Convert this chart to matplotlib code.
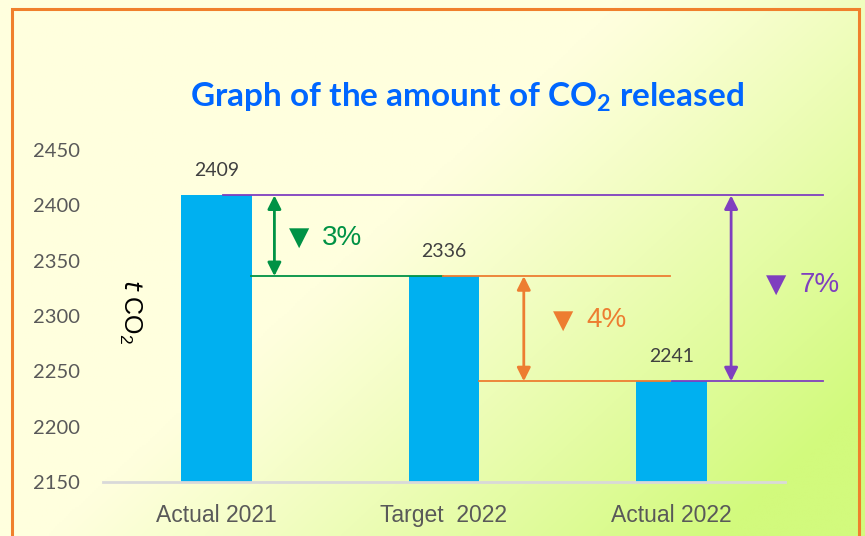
import matplotlib
matplotlib.use('Agg')
import matplotlib.pyplot as plt
import numpy as np
from matplotlib.patches import Rectangle

# data
categories = ['Actual 2021', 'Target  2022', 'Actual 2022']
values = [2409, 2336, 2241]
yticks = [2150, 2200, 2250, 2300, 2350, 2400, 2450]
drops = ['3%', '4%', '7%']

blue = '#00B0F0'
green = '#009245'
orange = '#ED7D31'
purple = '#7F3FBF'

plt.rcParams['mathtext.default'] = 'regular'

fig = plt.figure(figsize=(8.65, 5.36), dpi=100)

# background gradient (pale yellow -> yellow green at lower right)
bg = fig.add_axes([0, 0, 1, 1], zorder=-10)
gx, gy = np.meshgrid(np.linspace(0, 1, 400), np.linspace(0, 1, 250))
t = np.clip((gx * 0.9 + gy * 0.6 - 0.65) / 0.7, 0, 1) ** 1.1
c0 = np.array([255, 255, 222]) / 255
c1 = np.array([210, 250, 125]) / 255
img = c0[None, None, :] * (1 - t[..., None]) + c1[None, None, :] * t[..., None]
bg.imshow(img, aspect='auto', extent=[0, 1, 1, 0])
bg.set_xlim(0, 1)
bg.set_ylim(1, 0)
bg.axis('off')

# orange frame
fig.patches.append(Rectangle((12 / 865, -0.02), (859 - 12) / 865, 1.02 - 9 / 536,
                             transform=fig.transFigure, fill=False,
                             edgecolor='#F0802C', lw=2.2, zorder=5))

ax = fig.add_axes([103 / 865, 1 - 482 / 536, (785 - 103) / 865, (482 - 150) / 536])
ax.patch.set_alpha(0)
x = np.arange(len(categories))
ax.bar(x, values, width=0.31, color=blue, zorder=2)
ax.set_xlim(-0.5, 2.5)
ax.set_ylim(2150, 2450)
ax.set_yticks(yticks)
ax.set_yticklabels([str(v) for v in yticks], family='Lato', fontsize=14.5, color='#595959')
ax.set_xticks(x)
ax.set_xticklabels(categories, family=['Liberation Sans Narrow', 'Liberation Sans'],
                   fontsize=16.5, color='#595959')
ax.tick_params(axis='y', length=0, pad=16.5)
ax.tick_params(axis='x', length=0, pad=16)
for s in ['top', 'right', 'left']:
    ax.spines[s].set_visible(False)
ax.spines['bottom'].set_color('#D9D9D9')
ax.spines['bottom'].set_linewidth(2)

# value labels
for xi, v in zip(x, values):
    ax.annotate(str(v), (xi, v), xytext=(0, 18), textcoords='offset points',
                ha='center', va='center', family='Lato', fontsize=14, color='#404040')

# reference lines
a21, t22, a22 = values
ax.plot([0.026, 2.667], [a21, a21], color=purple, lw=1.3, clip_on=False, zorder=3)
ax.plot([0.149, 0.996], [t22, t22], color=green, lw=1.3, clip_on=False, zorder=3)
ax.plot([0.996, 1.996], [t22, t22], color=orange, lw=1.3, clip_on=False, zorder=3)
ax.plot([1.154, 1.996], [a22, a22], color=orange, lw=1.3, clip_on=False, zorder=3)
ax.plot([2.004, 2.667], [a22, a22], color=purple, lw=1.3, clip_on=False, zorder=3)

# double arrows
def darrow(xp, y0, y1, col):
    ax.annotate('', xy=(xp, y1), xytext=(xp, y0),
                arrowprops=dict(arrowstyle='<|-|>', color=col, lw=2,
                                mutation_scale=20, shrinkA=0, shrinkB=0),
                annotation_clip=False, zorder=4)

darrow(0.254, a21, t22, green)
darrow(1.351, t22, a22, orange)
darrow(2.263, a21, a22, purple)

# drop labels: triangle + percentage
def drop_label(xl, yl, txt, col):
    ax.annotate('\u25BC', (xl, yl), xytext=(0, 0), textcoords='offset points',
                color=col, fontsize=19, family='DejaVu Sans', ha='left', va='center',
                annotation_clip=False)
    ax.annotate(txt, (xl, yl), xytext=(24, 0), textcoords='offset points',
                color=col, fontsize=20, family='Liberation Sans', ha='left', va='center',
                annotation_clip=False)

drop_label(0.316, 2370.5, drops[0], green)
drop_label(1.478, 2296, drops[1], orange)
drop_label(2.417, 2328, drops[2], purple)

# y label
fig.text(130 / 865, 1 - 312 / 536, r'$\mathit{t}$ CO$_2$',
         rotation=270, ha='center', va='center', fontsize=18, family='Liberation Sans',
         color='black')

# title
fig.text(467 / 865, 1 - 97 / 536, 'Graph of the amount of CO$_2$ released',
         ha='center', va='center', family='Lato', fontweight='bold', fontsize=24,
         color='#0066FF')

fig.savefig('out.png', dpi=100)
